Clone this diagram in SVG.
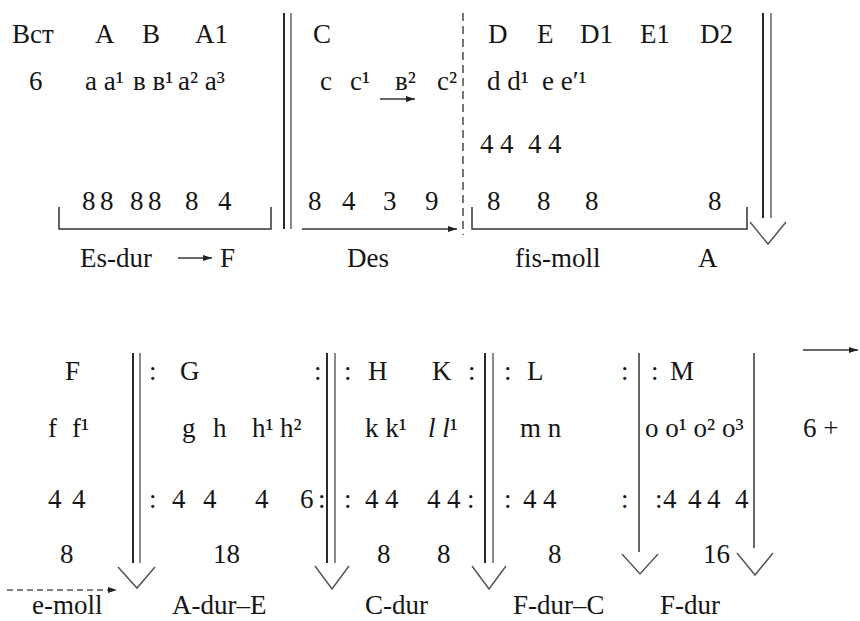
<svg xmlns="http://www.w3.org/2000/svg" width="860" height="621" viewBox="0 0 860 621" font-family="'Liberation Serif', 'DejaVu Serif', serif">
<defs>
<marker id="ah" markerWidth="10" markerHeight="8" refX="9" refY="4" orient="auto" markerUnits="userSpaceOnUse">
<path d="M0,1 L9,4 L0,7 z" fill="#222"/>
</marker>
</defs>
<style>
text{font-family:'Liberation Serif','DejaVu Serif',serif;font-size:27px;fill:#151515}
.bar1{stroke:#2a2a2a;stroke-width:2;fill:none}
.bar2{stroke:#8a8a8a;stroke-width:2;fill:none}
.ln{stroke:#333;stroke-width:1.5;fill:none}
.vh{stroke:#555;stroke-width:1.5;fill:none}
.dash{stroke:#777;stroke-width:2;stroke-dasharray:8 5;fill:none}
.dash2{stroke:#555;stroke-width:1.5;stroke-dasharray:6 4;fill:none}
.it{font-style:italic}
</style>
<rect width="860" height="621" fill="#fff"/>

<g id="connectors">
<line class="bar1" x1="284" y1="13" x2="284" y2="229"/>
<line class="bar2" x1="291" y1="13" x2="291" y2="229"/>
<line class="dash" x1="463" y1="13" x2="463" y2="235"/>
<path class="ln" d="M59 207 V229 H271 V207"/>
<path class="ln" d="M472 207 V229 H747 V207"/>
<line class="ln" x1="302" y1="229" x2="457" y2="229" marker-end="url(#ah)"/>
<line class="bar1" x1="763" y1="13" x2="763" y2="218"/>
<line class="bar2" x1="771" y1="13" x2="771" y2="218"/>
<polyline class="vh" points="750,222 768,244 786,222"/>
<line class="ln" x1="380" y1="99" x2="415" y2="99" marker-end="url(#ah)"/>
<line class="ln" x1="178" y1="258" x2="212" y2="258" marker-end="url(#ah)"/>

<line class="bar1" x1="133" y1="353" x2="133" y2="563"/>
<line class="bar2" x1="140" y1="353" x2="140" y2="563"/>
<polyline class="vh" points="118,567 137,588 155,567"/>
<line class="bar1" x1="327" y1="353" x2="327" y2="563"/>
<line class="bar2" x1="335" y1="353" x2="335" y2="563"/>
<polyline class="vh" points="315,566 332,589 349,566"/>
<line class="bar1" x1="485" y1="353" x2="485" y2="563"/>
<line class="bar2" x1="493" y1="353" x2="493" y2="563"/>
<polyline class="vh" points="472,566 489,589 506,566"/>
<line class="ln" x1="639" y1="353" x2="639" y2="552"/>
<polyline class="vh" points="622,554 640,574 658,554"/>
<line class="ln" x1="754" y1="353" x2="754" y2="548"/>
<polyline class="vh" points="737,553 755,575 773,553"/>
<line class="dash2" x1="7" y1="590" x2="117" y2="590" marker-end="url(#ah)"/>
<line class="ln" x1="803" y1="350" x2="858" y2="350" marker-end="url(#ah)"/>
</g>

<g id="intro">
<text x="12" y="43">Вст</text>
<text x="29" y="90">6</text>
</g>

<g id="sec-AB">
<text x="95" y="43">A</text>
<text x="142" y="43">B</text>
<text x="195" y="43">A1</text>
<text x="85" y="90">a a¹</text>
<text x="133" y="90">в в¹</text>
<text x="178" y="90">a² a³</text>
<text x="82" y="210">8</text>
<text x="100" y="210">8</text>
<text x="130" y="210">8</text>
<text x="148" y="210">8</text>
<text x="185" y="210">8</text>
<text x="218" y="210">4</text>
<text x="80" y="267">Es-dur</text>
<text x="220" y="267">F</text>
</g>

<g id="sec-C">
<text x="313" y="43">C</text>
<text x="320" y="90">c</text>
<text x="350" y="90">c¹</text>
<text x="395" y="90">в²</text>
<text x="437" y="90">c²</text>
<text x="308" y="210">8</text>
<text x="342" y="210">4</text>
<text x="383" y="210">3</text>
<text x="425" y="210">9</text>
<text x="347" y="267">Des</text>
</g>

<g id="sec-DE">
<text x="488" y="43">D</text>
<text x="537" y="43">E</text>
<text x="580" y="43">D1</text>
<text x="640" y="43">E1</text>
<text x="700" y="43">D2</text>
<text x="487" y="90">d d¹</text>
<text x="542" y="90">e e′¹</text>
<text x="480" y="153">4</text>
<text x="500" y="153">4</text>
<text x="528" y="153">4</text>
<text x="548" y="153">4</text>
<text x="487" y="210">8</text>
<text x="537" y="210">8</text>
<text x="585" y="210">8</text>
<text x="708" y="210">8</text>
<text x="515" y="267">fis-moll</text>
<text x="698" y="267">A</text>
</g>

<g id="sec-F">
<text x="65" y="380">F</text>
<text x="48" y="437">f</text>
<text x="72" y="437">f¹</text>
<text x="48" y="508">4</text>
<text x="72" y="508">4</text>
<text x="60" y="563">8</text>
<text x="32" y="614">e-moll</text>
</g>

<g id="sec-G">
<text x="149" y="380">:</text>
<text x="180" y="380">G</text>
<text x="314" y="380">:</text>
<text x="182" y="437">g</text>
<text x="213" y="437">h</text>
<text x="252" y="437">h¹</text>
<text x="280" y="437">h²</text>
<text x="149" y="508">:</text>
<text x="172" y="508">4</text>
<text x="203" y="508">4</text>
<text x="255" y="508">4</text>
<text x="300" y="508">6</text>
<text x="318" y="508">:</text>
<text x="213" y="563">18</text>
<text x="172" y="614">A-dur–E</text>
</g>

<g id="sec-HK">
<text x="344" y="380">:</text>
<text x="368" y="380">H</text>
<text x="432" y="380">K</text>
<text x="468" y="380">:</text>
<text x="365" y="437">k k¹</text>
<text x="428" y="437"><tspan class="it">l</tspan> <tspan class="it">l</tspan>¹</text>
<text x="344" y="508">:</text>
<text x="365" y="508">4</text>
<text x="385" y="508">4</text>
<text x="427" y="508">4</text>
<text x="447" y="508">4</text>
<text x="467" y="508">:</text>
<text x="377" y="563">8</text>
<text x="437" y="563">8</text>
<text x="365" y="614">C-dur</text>
</g>

<g id="sec-L">
<text x="504" y="380">:</text>
<text x="527" y="380">L</text>
<text x="621" y="380">:</text>
<text x="520" y="437">m n</text>
<text x="504" y="508">:</text>
<text x="523" y="508">4</text>
<text x="543" y="508">4</text>
<text x="621" y="508">:</text>
<text x="548" y="563">8</text>
<text x="513" y="614">F-dur–C</text>
</g>

<g id="sec-M">
<text x="651" y="380">:</text>
<text x="670" y="380">M</text>
<text x="645" y="437">o o¹ o² o³</text>
<text x="655" y="508">:</text>
<text x="663" y="508">4</text>
<text x="688" y="508">4</text>
<text x="707" y="508">4</text>
<text x="735" y="508">4</text>
<text x="703" y="563">16</text>
<text x="660" y="614">F-dur</text>
</g>

<g id="coda">
<text x="803" y="437">6 +</text>
</g>
</svg>
